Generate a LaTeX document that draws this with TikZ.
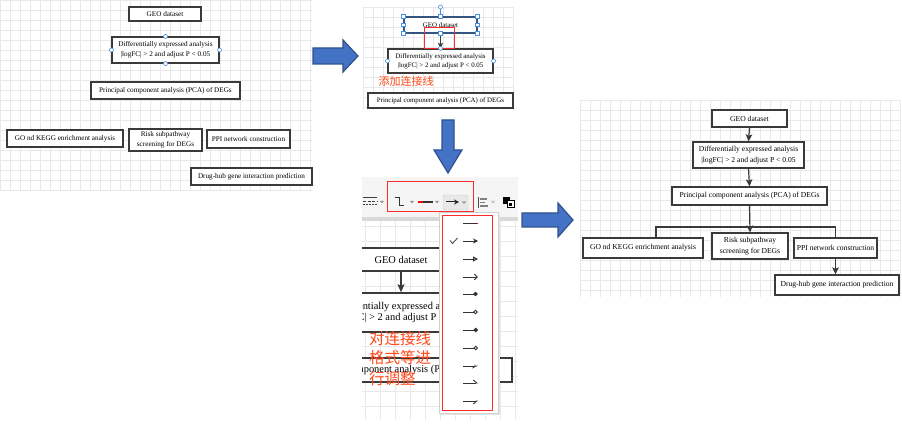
\documentclass[tikz,border=0pt]{standalone}
\usepackage{fontspec}
\setmainfont{Liberation Serif}
\newfontfamily\cjk{Noto Sans CJK SC}
\usetikzlibrary{arrows.meta}
\definecolor{boxc}{HTML}{3A3A3A}
\definecolor{gridc}{HTML}{E9E9E9}
\definecolor{hblue}{HTML}{4A8FE0}
\definecolor{bfill}{HTML}{4472C4}
\definecolor{bdraw}{HTML}{2F528F}
\definecolor{redlab}{HTML}{FF4A1C}
\definecolor{redbox}{HTML}{FF2A2A}
\definecolor{selc}{HTML}{34567E}
\begin{document}
\begin{tikzpicture}[x=1pt,y=-1pt,
  box/.style={draw=boxc, line width=1.3pt, fill=white, align=center, inner sep=0pt},
  fA/.style={font=\fontsize{7.2}{9.6}\selectfont},
  fB/.style={font=\fontsize{6.9}{9.2}\selectfont},
  fC/.style={font=\fontsize{10.4}{11.6}\selectfont},
  fD/.style={font=\fontsize{7.6}{11.5}\selectfont},
  conn/.style={draw=boxc, line width=1.2pt, -{Stealth[length=7pt,width=6.5pt,inset=1.5pt]}},
  plainconn/.style={draw=boxc, line width=1.2pt},
  hcirc/.style={circle, draw=hblue, fill=white, line width=0.6pt, inner sep=0pt, minimum size=4pt},
  hsq/.style={rectangle, draw=hblue, fill=white, line width=0.6pt, inner sep=0pt, minimum size=3.6pt},
  bluearrow/.style={fill=bfill, draw=bdraw, line width=1.2pt, line join=miter},
  redlabel/.style={text=redlab, inner sep=0pt},
  caret/.style={fill=gray!80, draw=none},
  item/.style={draw=black!80, line width=0.9pt},
]
\useasboundingbox (0,0) rectangle (902,427);
\fill[white] (0,0) rectangle (902,427);

% ---------------- grids ----------------
\foreach \x in {0,10,...,310} \draw[gridc, line width=0.4pt] (\x,0) -- (\x,190);
\foreach \y in {0,10,...,190} \draw[gridc, line width=0.4pt] (0,\y) -- (312,\y);
\foreach \x in {363,373,...,513} \draw[gridc, line width=0.4pt] (\x,7) -- (\x,110);
\foreach \y in {7,17,...,107} \draw[gridc, line width=0.4pt] (363,\y) -- (513,\y);
\foreach \x in {580,590,...,900} \draw[gridc, line width=0.4pt] (\x,100) -- (\x,297);
\foreach \y in {100,110,...,290} \draw[gridc, line width=0.4pt] (580,\y) -- (900,\y);

% ---------------- panel 1 ----------------
\node[box,fA,line width=1.1pt,minimum width=72,minimum height=14] (a1) at (165,14) {GEO dataset};
\node[box,fA,line width=1.1pt,minimum width=107,minimum height=26] (a2) at (165.5,50) {Differentially expressed analysis\\|logFC| > 2 and adjust P < 0.05};
\node[box,fA,line width=1.1pt,minimum width=149,minimum height=17] (a3) at (165.5,90.5) {Principal component analysis (PCA) of DEGs};
\node[box,fA,line width=1.1pt,minimum width=116,minimum height=17] (a4) at (65,138.5) {GO nd KEGG enrichment analysis};
\node[box,fA,line width=1.1pt,minimum width=73,minimum height=22] (a5) at (165.5,140) {Risk subpathway\\screening for DEGs};
\node[box,fA,line width=1.1pt,minimum width=83,minimum height=18] (a6) at (248.5,139) {PPI network construction};
\node[box,fA,line width=1.1pt,minimum width=121,minimum height=17] (a7) at (251.5,176.5) {Drug-hub gene interaction prediction};
\foreach \a in {north,south,west,east} \node[hcirc] at (a2.\a) {};

% ---------------- blue arrows ----------------
\draw[bluearrow] (313,48) -- (343,48) -- (343,40) -- (358,56) -- (343,72) -- (343,64) -- (313,64) -- cycle;
\draw[bluearrow] (442,120) -- (454,120) -- (454,150) -- (462,150) -- (448,173) -- (434,150) -- (442,150) -- cycle;
\draw[bluearrow] (522,213) -- (558,213) -- (558,203) -- (573,220) -- (558,237) -- (558,227) -- (522,227) -- cycle;

% ---------------- panel 2 ----------------
\node[box,fB,draw=selc,line width=1.1pt,minimum width=73,minimum height=16] (b1) at (440.5,25) {GEO dataset};
\node[box,fB,line width=1.1pt,minimum width=105,minimum height=24] (b2) at (440.5,61) {Differentially expressed analysis\\|logFC| > 2 and adjust P < 0.05};
\node[box,fB,line width=1.1pt,minimum width=145,minimum height=15] (b3) at (440.5,100.5) {Principal component analysis (PCA) of DEGs};
\draw[redbox, line width=1pt] (424,28) rectangle (454,49);
\draw[draw=boxc, line width=1.1pt, -{Stealth[length=5.5pt,width=5pt,inset=1pt]}] (b1.south) -- (b2.north);
\coordinate (rot) at (440.5,7);
\draw[hblue, line width=0.6pt] (rot) -- (b1.north);
\node[hcirc] at (rot) {};
\foreach \a in {north west,north east,south west,south east,north,south,west,east} \node[hsq] at (b1.\a) {};
\foreach \a in {north,west,east} \node[hcirc] at (b2.\a) {};
\node[redlabel, font=\cjk\fontsize{11}{11}\selectfont] (t2) at (406,81) {添加连接线};

% ---------------- panel 3 ----------------
\fill[black!4] (362,177) rectangle (518,217);
\fill[black!15] (362,217) rectangle (518,221);
\begin{scope}
\clip (362,221) rectangle (518,420);
\foreach \x in {365,380,...,515} \draw[gridc, line width=0.5pt] (\x,221) -- (\x,420);
\foreach \y in {226,241,...,420} \draw[gridc, line width=0.5pt] (362,\y) -- (518,\y);
\node[box,fC,line width=1.5pt,minimum width=110,minimum height=23] (c1) at (401,259.5) {GEO dataset};
\node[box,fC,line width=1.5pt,minimum width=158,minimum height=39] (c2) at (401,312.5) {Differentially expressed analysis\\|logFC| > 2 and adjust P < 0.05};
\node[box,fC,line width=1.5pt,minimum width=221,minimum height=24] (c3) at (401.5,370) {Principal component analysis (PCA) of DEGs};
\draw[draw=boxc, line width=1.4pt, -{Stealth[length=8pt,width=7pt,inset=1.5pt]}] (c1.south) -- (c2.north);
\node[redlabel, anchor=north west, align=left, font=\cjk\fontsize{15.5}{19}\selectfont] (t3) at (369,331) {对连接线\\格式等进\\[2.5pt]行调整};
\end{scope}

% toolbar icons
\draw[black!75, line width=1pt] (363,198) -- (377,198);
\draw[black!75, line width=1pt, dash pattern=on 3pt off 1.5pt] (363,201.5) -- (377,201.5);
\draw[black!75, line width=1pt, dash pattern=on 1.5pt off 1.5pt] (363,205) -- (377,205);
\fill[caret] (380,201) -- (384,201) -- (382,203.5) -- cycle;
\draw[black!80, line width=1pt] (395,198) -- (399.5,198) -- (399.5,205.5) -- (404,205.5);
\fill[caret] (410,201) -- (414,201) -- (412,203.5) -- cycle;
\draw[red, line width=1.2pt] (418,202) -- (423,202);
\draw[black!80, line width=1.2pt] (423,202) -- (433,202);
\fill[caret] (435,201) -- (439,201) -- (437,203.5) -- cycle;
\draw[fill=black!9, draw=black!20, rounded corners=1.5pt] (443,195) rectangle (468,210);
\draw[black!85, line width=1pt, -{Stealth[length=5pt,width=5pt]}] (446,202) -- (459,202);
\fill[caret] (462,201.5) -- (466,201.5) -- (464,204) -- cycle;
\draw[redbox, line width=1pt] (387,182) rectangle (473,212);
\draw[black!70, line width=1pt] (478.5,197) -- (478.5,208);
\draw[black!50, line width=1.4pt] (480,199) -- (487,199) (480,202.5) -- (485,202.5) (480,206) -- (488,206);
\fill[black!25] (491,201) -- (495,201) -- (493,203.5) -- cycle;
\fill[black] (503,197) rectangle (510,204);
\draw[black, fill=white, line width=1pt] (507,201) rectangle (514,208);
\fill[black] (509,203) rectangle (512,206);

% dropdown
\fill[black!10] (440.5,213.5) rectangle (500,415);
\draw[fill=white, draw=black!18, line width=0.5pt] (439,212) rectangle (498,413);
\draw[redbox, line width=1pt] (442,216) rectangle (492,410);
\draw[item] (463,223) -- (478,223);
\draw[red, line width=0.9pt] (476.5,223) -- (478,223);
\draw[black!70, line width=0.9pt] (450,240.5) -- (452.5,243.5) -- (457.5,238);
\draw[item, -{Stealth[length=5pt,width=5pt]}] (463,241) -- (478,241);
\draw[item, -{Triangle[length=5pt,width=5pt,fill=black!45]}] (463,259) -- (478,259);
\draw[item, -{Straight Barb[length=3pt,width=5.5pt]}] (463,277) -- (478,277);
\draw[item, -{Diamond[length=5pt,width=4.5pt]}] (463,294) -- (478,294);
\draw[item, -{Diamond[open,length=5pt,width=4.5pt]}] (463,312) -- (478,312);
\draw[item, -{Circle[length=4.5pt]}] (463,330) -- (478,330);
\draw[item, -{Circle[open,length=4.5pt]}] (463,348) -- (478,348);
\draw[item, -{Stealth[harpoon,swap,length=5pt,width=5pt]}] (463,366) -- (478,366);
\draw[item, -{Straight Barb[harpoon,length=3.5pt,width=6pt]}] (463,383) -- (478,383);
\draw[item, -{Straight Barb[harpoon,swap,length=3.5pt,width=6pt]}] (463,401) -- (478,401);

% ---------------- panel 4 ----------------
\node[box,fD,minimum width=75,minimum height=17] (d1) at (749.5,118.5) {GEO dataset};
\node[box,fD,minimum width=111,minimum height=26] (d2) at (748.5,155) {Differentially expressed analysis\\|logFC| > 2 and adjust P < 0.05};
\node[box,fD,minimum width=155,minimum height=18] (d3) at (749.5,196) {Principal component analysis (PCA) of DEGs};
\node[box,fD,minimum width=120,minimum height=20] (d4) at (643,248) {GO nd KEGG enrichment analysis};
\node[box,fD,minimum width=76,minimum height=26] (d5) at (750,246) {Risk subpathway\\screening for DEGs};
\node[box,fD,minimum width=83,minimum height=20] (d6) at (835.5,248) {PPI network construction};
\node[box,fD,minimum width=124,minimum height=20] (d7) at (837,285) {Drug-hub gene interaction prediction};
\draw[conn] (d1.south) -- (d2.north);
\draw[conn] (d2.south) -- (d3.north);
\draw[conn] (d3.south) -- (d5.north);
\coordinate (jl) at (656,227);
\coordinate (jr) at (835.5,227);
\draw[plainconn] (jl |- d4.north) -- (jl) -- (jr) -- (d6.north);
\draw[conn] (d6.south) -- (d6.south |- d7.north);
\end{tikzpicture}
\end{document}
